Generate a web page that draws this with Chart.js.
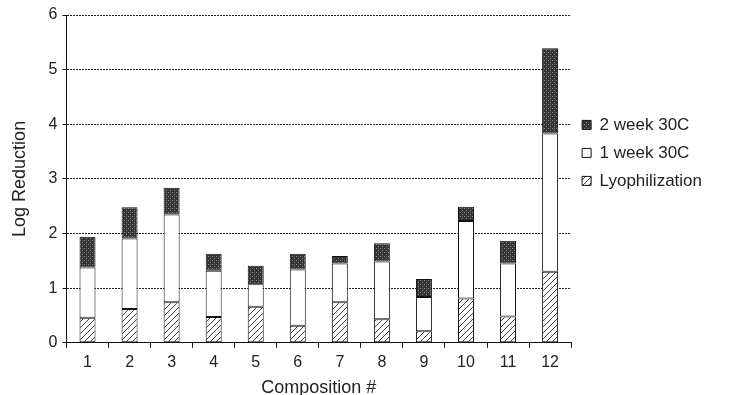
<!DOCTYPE html>
<html>
<head>
  <title>Log Reduction by Composition</title>
  <style>
    body {
      margin: 0;
      padding: 0;
      background-color: #ffffff;
    }
    #wrap {
      width: 742px;
      height: 395px;
    }
  </style>
  <script src="https://cdn.jsdelivr.net/npm/chart.js"></script>
</head>
<body>
  <div id="wrap">
    <canvas id="chart" width="742" height="395"></canvas>
  </div>

  <script>
    // 데이터 (누적 값에서 읽은 각 구간의 두께)
    var compositions = ['1', '2', '3', '4', '5', '6', '7', '8', '9', '10', '11', '12'];
    var lyophilization = [0.46, 0.62, 0.74, 0.47, 0.66, 0.31, 0.74, 0.43, 0.21, 0.81, 0.48, 1.30];
    var week1 = [0.92, 1.29, 1.61, 0.85, 0.41, 1.03, 0.71, 1.06, 0.63, 1.42, 0.97, 2.53];
    var week2 = [0.56, 0.57, 0.49, 0.31, 0.34, 0.29, 0.14, 0.33, 0.33, 0.26, 0.42, 1.56];
    var yTicks = [0, 1, 2, 3, 4, 5, 6];

    var FONT = "'Liberation Sans', Arial, sans-serif";

    // 해칭 패턴 (동결건조)
    function makeHatch() {
      var c = document.createElement('canvas');
      c.width = 6; c.height = 6;
      var g = c.getContext('2d');
      g.fillStyle = '#ffffff';
      g.fillRect(0, 0, 6, 6);
      g.strokeStyle = '#444444';
      g.lineWidth = 1;
      g.beginPath();
      g.moveTo(0, 6); g.lineTo(6, 0);
      g.moveTo(-3, 3); g.lineTo(3, -3);
      g.moveTo(3, 9); g.lineTo(9, 3);
      g.stroke();
      return g.createPattern(c, 'repeat');
    }

    // 점무늬 패턴 (2주)
    function makeStipple() {
      var c = document.createElement('canvas');
      c.width = 4; c.height = 4;
      var g = c.getContext('2d');
      g.fillStyle = '#333333';
      g.fillRect(0, 0, 4, 4);
      g.fillStyle = '#8a8a8a';
      g.fillRect(0, 0, 1, 1);
      g.fillRect(2, 2, 1, 1);
      g.fillStyle = '#5a5a5a';
      g.fillRect(2, 0, 1, 1);
      return g.createPattern(c, 'repeat');
    }

    var barOpts = {
      borderColor: '#111111',
      borderWidth: 1,
      borderSkipped: false,
      barPercentage: 0.38,
      categoryPercentage: 1.0
    };

    var chart = new Chart(document.getElementById('chart'), {
      type: 'bar',
      data: {
        labels: compositions,
        datasets: [
          Object.assign({ label: 'Lyophilization', data: lyophilization, backgroundColor: makeHatch() }, barOpts),
          Object.assign({ label: '1 week 30C', data: week1, backgroundColor: '#ffffff' }, barOpts),
          Object.assign({ label: '2 week 30C', data: week2, backgroundColor: makeStipple() }, barOpts)
        ]
      },
      options: {
        responsive: false,
        animation: false,
        layout: {
          padding: { top: 15, right: 30, left: 5, bottom: -6 }
        },
        plugins: {
          tooltip: { enabled: false },
          legend: {
            position: 'right',
            align: 'start',
            reverse: true,
            title: {
              display: true,
              text: ' ',
              padding: { top: 76 }
            },
            labels: {
              boxWidth: 9,
              boxHeight: 9,
              padding: 11,
              color: '#222222',
              font: { family: FONT, size: 17 }
            }
          }
        },
        scales: {
          x: {
            stacked: true,
            grid: {
              offset: true,
              drawOnChartArea: false,
              drawTicks: true,
              tickLength: 5,
              color: '#111111'
            },
            border: { color: '#111111', width: 1 },
            ticks: {
              color: '#222222',
              font: { family: FONT, size: 16 },
              padding: 5
            },
            title: {
              display: true,
              text: 'Composition #',
              color: '#222222',
              font: { family: FONT, size: 18, lineHeight: 1 },
              padding: { top: 2 }
            }
          },
          y: {
            stacked: true,
            min: 0,
            max: 6,
            afterBuildTicks: function (axis) {
              axis.ticks = yTicks.map(function (v) { return { value: v }; });
            },
            grid: {
              color: '#222222',
              tickLength: 4,
              tickColor: '#111111',
              tickBorderDash: [],
              drawTicks: true
            },
            border: { color: '#111111', width: 1, dash: [2, 1] },
            ticks: {
              color: '#222222',
              font: { family: FONT, size: 16 },
              padding: 5
            },
            title: {
              display: true,
              text: 'Log Reduction',
              color: '#222222',
              font: { family: FONT, size: 18 },
              padding: { bottom: 13 }
            }
          }
        }
      }
    });
  </script>
</body>
</html>
